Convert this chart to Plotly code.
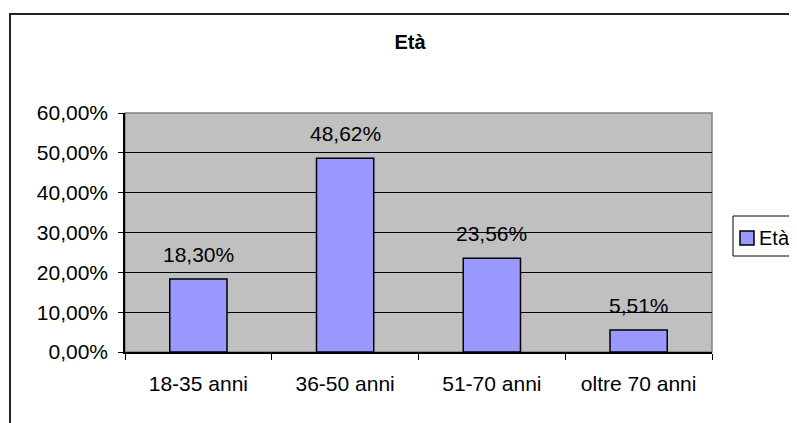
import plotly.graph_objects as go

categories = ["18-35 anni", "36-50 anni", "51-70 anni", "oltre 70 anni"]
values = [18.30, 48.62, 23.56, 5.51]
series_name = "Età"
title_text = "Età"

OFF = 8  # default page body margin
W, H = 797 - OFF, 423 - OFF
# target plot-area edges in screen pixels
L, R, T, B = 125, 712, 113, 352


def px_x(p):
    return (p - L) / (R - L)


def px_y(p):
    return (B - p) / (B - T)


FONT = "Liberation Sans, Arial, sans-serif"
FS = 21
BAR_COLOR = "#9999FF"

fig = go.Figure()
fig.add_trace(go.Bar(
    x=categories, y=values, name=series_name,
    marker=dict(color=BAR_COLOR, line=dict(color="black", width=1.5)),
    width=0.39,
    showlegend=False,
))

for c, v in zip(categories, values):
    fig.add_annotation(
        x=c, y=v, text=f"{v:.2f}%".replace(".", ","),
        showarrow=False, yanchor="bottom", yshift=11,
        font=dict(family=FONT, size=FS, color="black"),
    )

fig.add_shape(type="rect", xref="paper", yref="paper",
              x0=0, x1=1, y0=0, y1=1,
              line=dict(color="#808080", width=1.5), layer="below")

# outer chart border
fig.add_shape(type="rect", xref="paper", yref="paper",
              x0=px_x(10), x1=px_x(805), y0=px_y(14), y1=px_y(440),
              line=dict(color="#222222", width=2))

# legend (frame, swatch, label)
fig.add_shape(type="rect", xref="paper", yref="paper",
              x0=px_x(733), x1=px_x(805), y0=px_y(216), y1=px_y(256),
              line=dict(color="black", width=1), fillcolor="white")
fig.add_shape(type="rect", xref="paper", yref="paper",
              x0=px_x(740), x1=px_x(754), y0=px_y(231), y1=px_y(245),
              line=dict(color="black", width=1.5), fillcolor=BAR_COLOR)
fig.add_annotation(xref="paper", yref="paper", x=px_x(758), y=px_y(238),
                   xanchor="left", yanchor="middle", showarrow=False,
                   text=series_name, borderpad=0,
                   font=dict(family=FONT, size=20, color="black"))

fig.update_layout(
    width=W, height=H,
    margin=dict(l=L - OFF, r=(W - (R - OFF)), t=T - OFF, b=(H - (B - OFF)), autoexpand=False),
    paper_bgcolor="white",
    plot_bgcolor="#C0C0C0",
    separators=",.",
    font=dict(family=FONT, size=FS, color="black"),
    title=dict(text=f"<b>{title_text}</b>", x=px_x(410), xanchor="center",
               xref="paper", y=1 - (42 - OFF) / H, yanchor="middle",
               font=dict(family=FONT, size=20, color="black")),
    bargap=0.61,
    showlegend=False,
    xaxis=dict(
        showline=True, linecolor="black", linewidth=1.5,
        ticks="outside", tickson="boundaries", ticklen=6, tickcolor="black",
        showgrid=False, ticklabelstandoff=12,
        tickfont=dict(family=FONT, size=FS, color="black"),
    ),
    yaxis=dict(
        range=[0, 60], dtick=10, tickformat=".2f", ticksuffix="%",
        showline=True, linecolor="black", linewidth=1.5,
        ticks="outside", ticklen=5, tickcolor="black",
        showgrid=True, gridcolor="black", gridwidth=1,
        zeroline=False, ticklabelstandoff=6,
        tickfont=dict(family=FONT, size=FS, color="black"),
    ),
)

fig.write_html("out.html")
